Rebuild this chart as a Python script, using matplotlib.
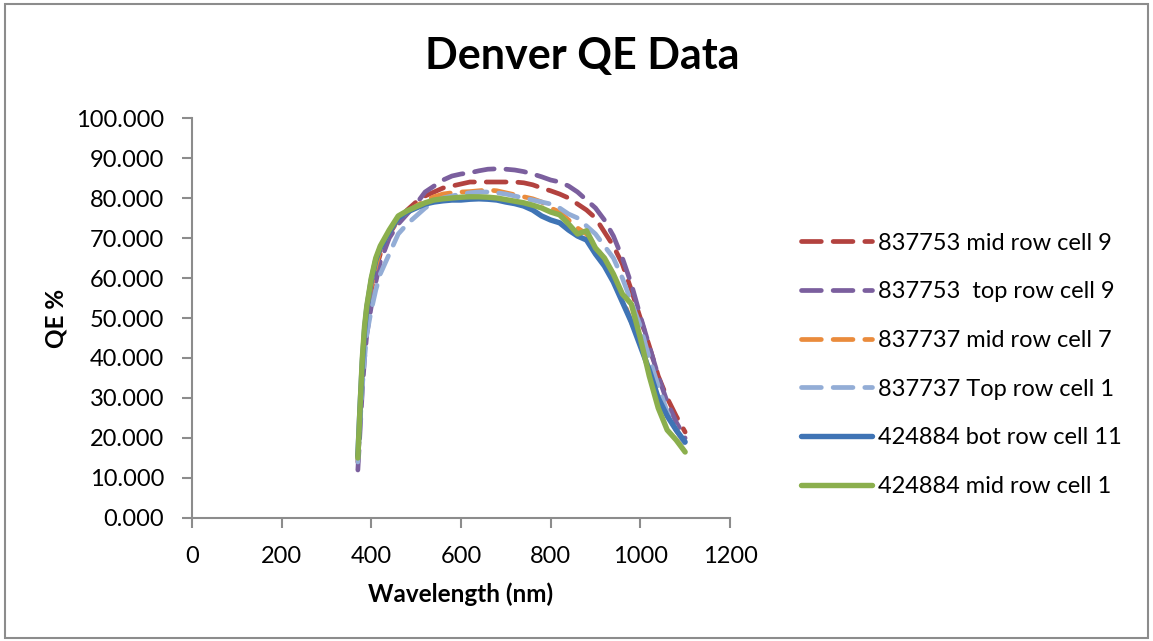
""" Denver QE Data """

import numpy as np
import matplotlib
import matplotlib.pyplot as plt
from matplotlib.patches import Rectangle
from matplotlib.ticker import FormatStrFormatter

#### Data (wavelength in nm, QE in %)
wl = [370, 375, 380, 385, 390, 400, 410, 420, 440, 460, 480, 500, 520, 540,
      560, 580, 600, 620, 640, 660, 680, 700, 720, 740, 760, 780, 800, 820,
      840, 860, 880, 900, 920, 940, 960, 980, 1000, 1020, 1040, 1060, 1080, 1100]

mid9 = [14, 25, 35, 44, 50, 57, 62, 66, 71, 74.5, 77, 79, 80.5, 81.5,
        82.5, 83, 83.5, 84, 84, 84, 84, 84, 84, 83.8, 83.3, 82.5, 81.8, 81,
        80, 78.5, 77, 75, 71.5, 68, 63.5, 57, 50, 43, 35.5, 30, 25.5, 21.5]

top9 = [12, 22, 32, 40, 46, 53, 59, 64, 70, 73.5, 76, 78.5, 81.5, 83,
        84.5, 85.5, 86, 86.3, 86.8, 87.2, 87.3, 87.2, 87, 86.6, 86, 85.3, 84.5, 84,
        83, 81.5, 79.5, 77.5, 74.5, 70.5, 65, 58.5, 50.5, 43, 35.5, 29, 24, 20]

mid7 = [15, 27, 38, 46, 52, 58, 63, 67, 71.5, 74.5, 76.5, 78, 79.3, 80.3,
        81, 81.3, 81.5, 81.6, 81.8, 82, 81.8, 81.3, 80.8, 80.3, 79.8, 79, 77.5, 76.5,
        74.5, 72.5, 71, 68, 64.5, 60.5, 55, 49, 43.5, 37, 31, 26, 22, 18.5]

top1 = [14, 24, 33, 40, 46, 52, 57, 61, 66, 71, 73.5, 75.5, 77.5, 79,
        80, 80.5, 81, 81.3, 81.5, 81.5, 81.3, 81, 80.5, 80, 79.5, 79, 78.5, 77.5,
        76, 75, 73, 71, 68, 65, 60, 54, 48, 40, 33, 26.5, 22, 18.5]

bot11 = [15.5, 28, 39, 47, 52.5, 59.5, 64.5, 67.5, 71.5, 75, 76.5, 77.5, 78.5, 79,
         79.3, 79.5, 79.5, 79.7, 79.8, 79.7, 79.5, 79, 78.6, 78, 77, 75.5, 74.5, 73.8,
         72, 70.5, 69.5, 66, 63, 59, 54, 49, 43, 37, 30, 25.5, 22, 19]

mid1 = [15, 28, 40, 48, 53, 60, 65, 68, 72, 75.5, 76.8, 77.8, 78.8, 79.5,
        79.8, 80, 80.2, 80.3, 80.3, 80.2, 80, 79.6, 79.2, 78.8, 78.2, 77.5, 76.5, 75.8,
        73.5, 71, 71.8, 67.5, 65, 61, 56, 53.5, 45, 35.5, 27.5, 22, 19.5, 16.5]

labels = ["837753 mid row cell 9", "837753  top row cell 9", "837737 mid row cell 7",
          "837737 Top row cell 1", "424884 bot row cell 11", "424884 mid row cell 1"]

plt.rcParams['font.family'] = ['Lato', 'DejaVu Sans']
fig = plt.figure(figsize=(11.53, 6.41), dpi=100)
fig.patch.set_facecolor("w")
fig.patches.append(Rectangle((0.004, 0.004), 0.992, 0.99, transform=fig.transFigure,
                             fill=False, edgecolor="#8c8c8c", lw=1.5))

ax = fig.add_axes([0.1665, 0.1919, 0.4666, 0.624])

dash = dict(lw=3.4, dashes=(4.2, 2.5), dash_capstyle="round", dash_joinstyle="round")
solid = dict(lw=3.9, solid_capstyle="round", solid_joinstyle="round")
ax.plot(wl, mid9, color="#B3423F", label=labels[0], **dash)
ax.plot(wl, top9, color="#7B5F9E", label=labels[1], **dash)
ax.plot(wl, mid7, color="#EA8B3C", label=labels[2], **dash)
ax.plot(wl, top1, color="#93ADD6", label=labels[3], **dash)
ax.plot(wl, bot11, color="#3F74B5", label=labels[4], **solid)
ax.plot(wl, mid1, color="#8BAF4D", label=labels[5], **solid)

ax.set_xlim(0, 1200); ax.set_ylim(0, 100)
ax.set_xticks(np.arange(0, 1201, 200))
ax.set_yticks(np.arange(0, 101, 10))
ax.yaxis.set_major_formatter(FormatStrFormatter("%.3f"))
ax.tick_params(direction="out", length=7, width=1.5, color="#8c8c8c", labelsize=17)
ax.tick_params(axis="y", pad=13)
ax.tick_params(axis="x", pad=13)
for s in ["top", "right"]:
    ax.spines[s].set_visible(False)
for s in ["left", "bottom"]:
    ax.spines[s].set_color("#8c8c8c"); ax.spines[s].set_linewidth(1.5)

ax.set_xlabel("Wavelength (nm)", fontsize=17.5, fontweight="bold", labelpad=11)
ax.set_ylabel("QE %", fontsize=17.5, fontweight="bold", labelpad=6)
fig.text(0.505, 0.912, "Denver QE Data", fontsize=31, fontweight="bold", ha="center", va="center")

ax.legend(loc="upper left", bbox_to_anchor=(1.115, 0.737), frameon=False, fontsize=17,
          handlelength=3.0, handletextpad=0.25, labelspacing=1.17, borderaxespad=0)

plt.savefig("out.png", dpi=100)
